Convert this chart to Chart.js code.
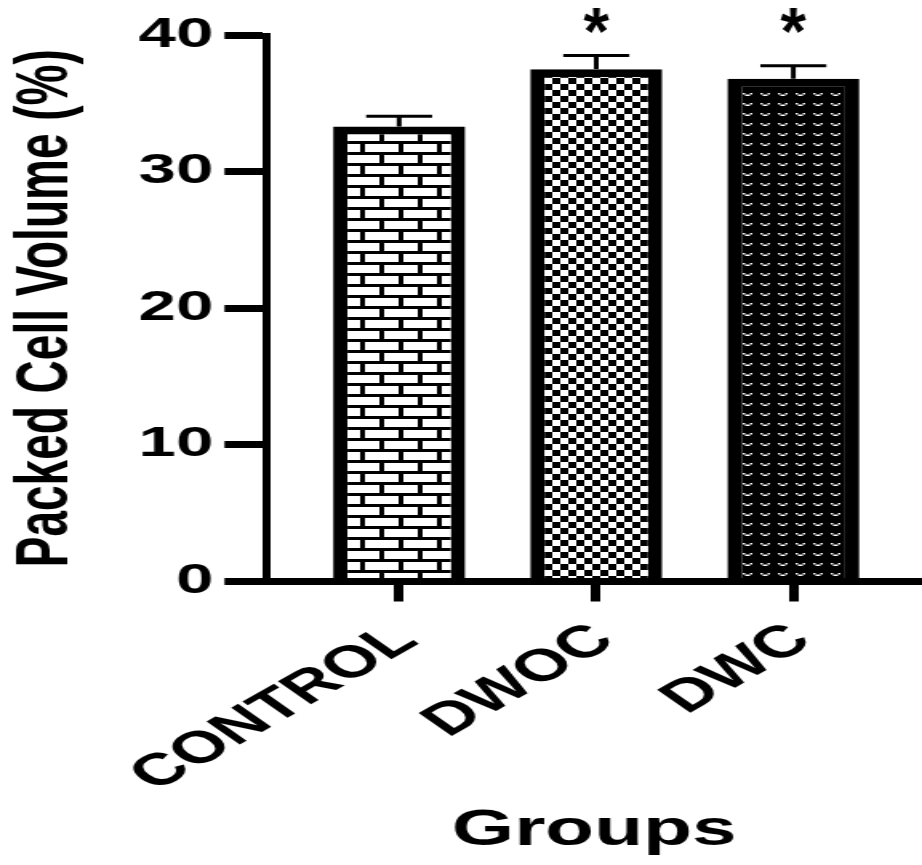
<!DOCTYPE html>
<html><head><meta charset="utf-8">
<script src="https://cdn.jsdelivr.net/npm/chart.js@4.4.1/dist/chart.umd.min.js"></script>
<style>
html,body{margin:0;padding:0;background:#fff;overflow:hidden;}
#wrap{position:absolute;left:0;top:0;width:576px;height:865px;transform:scaleX(1.6007);transform-origin:0 0;}
</style></head><body>
<div id="wrap"><canvas id="c"></canvas></div>
<script>
const categories = ['CONTROL', 'DWOC', 'DWC'];
const meanPCV = [33.3, 37.5, 36.8];
const errorPCV = [0.75, 1.0, 0.95];
const significance = ['', '*', '*'];
const yTickValues = [0, 10, 20, 30, 40];
const yAxisTitle = 'Packed Cell Volume (%)';
const xAxisTitle = 'Groups';

const FONT = '"Liberation Sans", Arial, Helvetica, sans-serif';

function makePattern(w, h, draw) {
  const c = document.createElement('canvas');
  c.width = w; c.height = h;
  const g = c.getContext('2d');
  draw(g, w, h);
  return document.createElement('canvas').getContext('2d').createPattern(c, 'repeat');
}
const brickPattern = makePattern(24, 22, g => {
  g.fillStyle = '#000'; g.fillRect(0, 0, 24, 22);
  g.fillStyle = '#fff';
  g.fillRect(0, 1, 21, 8);
  g.fillRect(12, 12, 21, 8);
  g.fillRect(-12, 12, 21, 8);
});
const checkerPattern = makePattern(10, 12, g => {
  g.fillStyle = '#fff'; g.fillRect(0, 0, 10, 12);
  g.fillStyle = '#000';
  g.fillRect(0, 0, 5, 6);
  g.fillRect(5, 6, 5, 6);
});
const marksPattern = makePattern(11, 10, g => {
  g.fillStyle = '#000'; g.fillRect(0, 0, 11, 10);
  g.fillStyle = '#fff';
  g.fillRect(2, 3, 1.5, 1.5);
  g.fillRect(3.5, 4.5, 3, 1.5);
  g.fillRect(6.5, 3, 1.5, 1.5);
});

const errorBarPlugin = {
  id: 'errorBars',
  afterDatasetsDraw(chart) {
    const meta = chart.getDatasetMeta(0);
    const yScale = chart.scales.y;
    const ctx = chart.ctx;
    ctx.save();
    ctx.strokeStyle = '#000';
    ctx.fillStyle = '#000';
    meta.data.forEach((bar, i) => {
      const topPx = yScale.getPixelForValue(meanPCV[i] + errorPCV[i]);
      const half = bar.width / 4;
      ctx.lineWidth = 3;
      ctx.beginPath();
      ctx.moveTo(bar.x, bar.y);
      ctx.lineTo(bar.x, topPx);
      ctx.stroke();
      ctx.beginPath();
      ctx.moveTo(bar.x - half, topPx);
      ctx.lineTo(bar.x + half, topPx);
      ctx.stroke();
      if (significance[i]) {
        ctx.save();
        ctx.translate(bar.x, chart.chartArea.top + 19);
        ctx.scale(0.625, 1);
        ctx.font = 'bold 66px ' + FONT;
        ctx.textAlign = 'center';
        ctx.textBaseline = 'alphabetic';
        ctx.fillText(significance[i], 0, 0);
        ctx.restore();
      }
    });
    ctx.restore();
  }
};

new Chart(document.getElementById('c'), {
  type: 'bar',
  data: {
    datasets: [{
      data: categories.map((c, i) => ({ x: i + 1, y: meanPCV[i] })),
      backgroundColor: [brickPattern, checkerPattern, marksPattern],
      borderColor: '#000',
      borderWidth: { top: 8, left: 9, right: 9, bottom: 0 },
      categoryPercentage: 1,
      barPercentage: 0.67
    }]
  },
  options: {
    responsive: true,
    maintainAspectRatio: false,
    animation: false,
    layout: { padding: { top: 35, left: 0, right: 0, bottom: 0 } },
    plugins: { legend: { display: false }, tooltip: { enabled: false } },
    scales: {
      x: {
        type: 'linear',
        min: 0.325,
        max: 3.653,
        offset: false,
        z: 1,
        afterBuildTicks: s => { s.ticks = categories.map((c, i) => ({ value: i + 1 })); },
        afterFit: s => { s.height = 283.5; },
        ticks: {
          autoSkip: false,
          minRotation: 42,
          maxRotation: 42,
          padding: 12,
          labelOffset: 5,
          color: '#000',
          font: { family: FONT, size: 45, weight: 'bold' },
          callback: v => categories[v - 1]
        },
        grid: { offset: false, drawOnChartArea: false, drawTicks: true, tickLength: 20, lineWidth: 6, color: '#000' },
        border: { display: true, width: 7, color: '#000' },
        title: {
          display: true, text: xAxisTitle, color: '#000',
          font: { family: FONT, size: 50, weight: 'bold' },
          padding: { top: 0, bottom: 4 }
        }
      },
      y: {
        min: 0,
        max: 40,
        afterBuildTicks: s => { s.ticks = yTickValues.map(v => ({ value: v })); },
        afterFit: s => { s.width = 166.25; },
        ticks: {
          padding: 7,
          color: '#000',
          font: { family: FONT, size: 42, weight: 'bold' }
        },
        grid: { drawOnChartArea: false, drawTicks: true, tickLength: 26, lineWidth: 7, color: '#000' },
        border: { display: true, width: 5, color: '#000' },
        title: {
          display: true, text: yAxisTitle, color: '#000',
          font: { family: FONT, size: 46, weight: 'bold' },
          padding: { top: 2, bottom: 0 }
        }
      }
    }
  },
  plugins: [errorBarPlugin]
});
</script>
</body></html>
